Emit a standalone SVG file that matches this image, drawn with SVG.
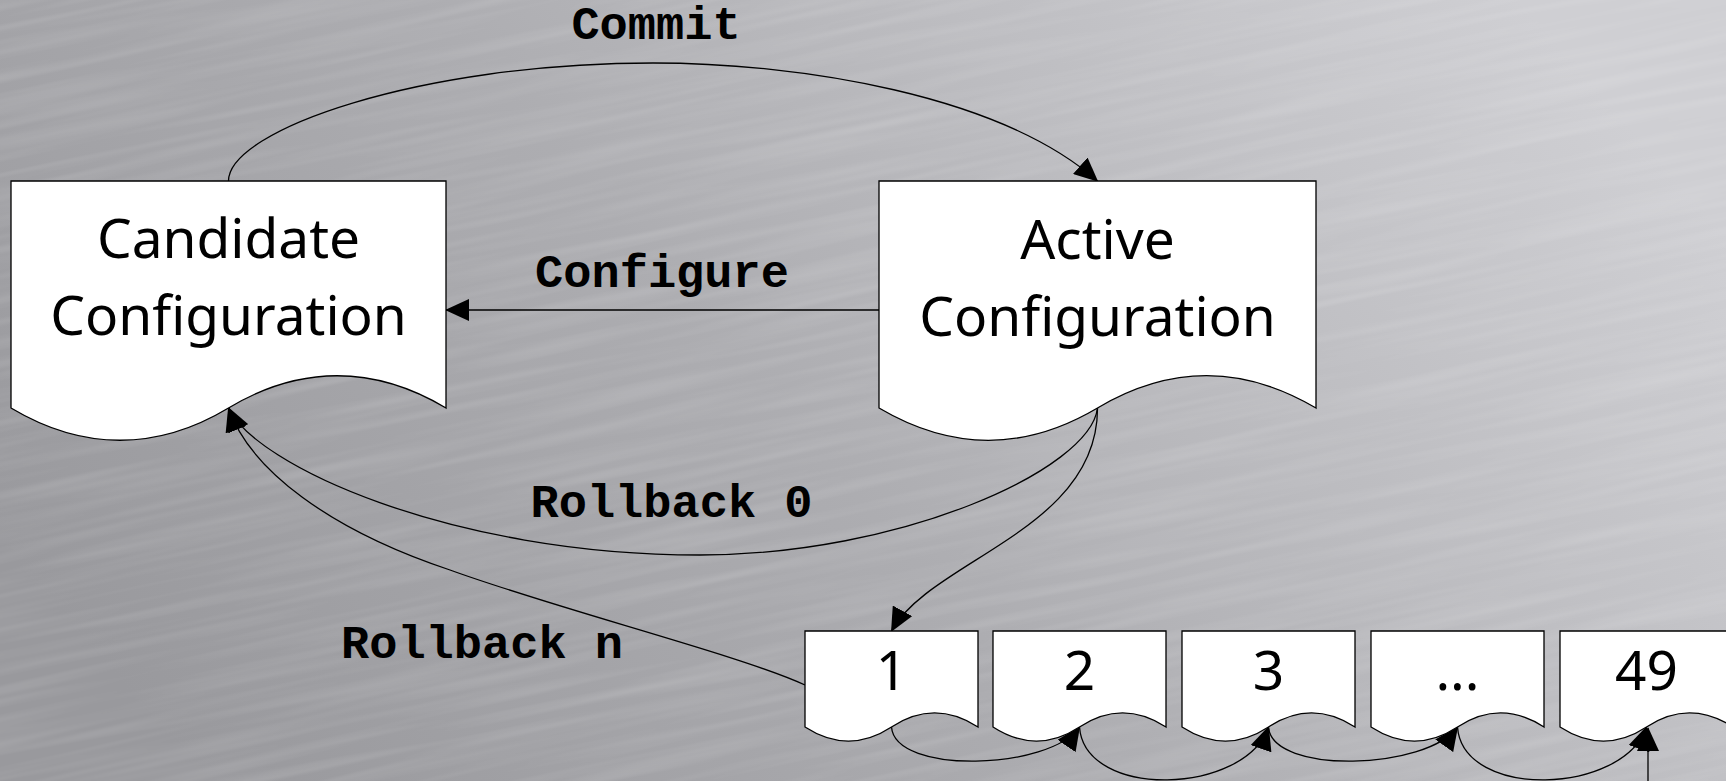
<svg xmlns="http://www.w3.org/2000/svg" width="1726" height="781" viewBox="0 0 1726 781">
<defs>
<linearGradient id="bg" x1="0" y1="0.7" x2="1" y2="0.3">
<stop offset="0" stop-color="#99999d"/>
<stop offset="0.45" stop-color="#adadb1"/>
<stop offset="1" stop-color="#cfcfd3"/>
</linearGradient>
<filter id="brush" x="0" y="0" width="1" height="1">
<feTurbulence type="fractalNoise" baseFrequency="0.004 0.1" numOctaves="2" seed="7"/>
<feColorMatrix type="matrix" values="0 0 0 0 1  0 0 0 0 1  0 0 0 0 1  0.25 0 0 0 -0.1"/>
</filter>
<marker id="arr" viewBox="0 0 24 22" refX="23" refY="11" markerWidth="24" markerHeight="22" orient="auto" markerUnits="userSpaceOnUse">
<path d="M0,0 L24,11 L0,22 z" fill="#000"/>
</marker>
<style>
.doc{fill:#fff;stroke:#000;stroke-width:1.3}
.big{font-family:"Noto Sans","Open Sans",sans-serif;font-size:55px;fill:#000;text-anchor:middle}
.lbl{font-family:"Liberation Mono","Courier New",monospace;font-weight:bold;font-size:47px;fill:#000;text-anchor:middle}
.con{fill:none;stroke:#000;stroke-width:1.3;marker-end:url(#arr)}
</style>
</defs>
<rect width="1726" height="781" fill="url(#bg)"/>
<g transform="rotate(-12 863 390)">
<rect x="-300" y="-400" width="2326" height="1600" filter="url(#brush)"/>
</g>

<g id="connectors">
<path class="con" d="M228.5,181 C228.5,130 420,63 653,63 C800,63 1000,95 1097.5,181"/>
<path class="con" d="M879,310 H446"/>
<path class="con" d="M1097.5,408 C1090,470 900,555 700,555 C450,555 255,465 228.5,408"/>
<path class="con" d="M805,685 C740,655 560,610 450,570 C330,530 250,470 228.5,408"/>
<path class="con" d="M1097.5,408 C1098,530 930,560 891.5,631"/>
<path class="con" d="M891.5,727 C895,775 1050,770 1079.5,727"/>
<path class="con" d="M1079.5,727 C1085,800 1245,795 1268.5,727"/>
<path class="con" d="M1268.5,727 C1272,775 1427,770 1457.5,727"/>
<path class="con" d="M1457.5,727 C1463,800 1623,795 1646.5,727"/>
<path class="con" d="M1648,795 V728"/>
</g>

<g id="candidate">
<path class="doc" d="M11,181 H446 V408 C374,365 300,365 228.5,408 C157,451 83,451 11,408 Z"/>
<text class="big" x="228.5" y="258">Candidate</text>
<text class="big" x="228.5" y="335">Configuration</text>
</g>
<g id="active">
<path class="doc" d="M879,181 H1316 V408 C1243,365 1170,365 1097.5,408 C1025,451 952,451 879,408 Z"/>
<text class="big" x="1097.5" y="259">Active</text>
<text class="big" x="1097.5" y="336">Configuration</text>
</g>

<g id="rev1">
<path class="doc" d="M805,631 h173 V727 C949,708.3 920,708.3 891.5,727 C863,745.7 834,745.7 805,727 Z"/>
<text class="big" x="891.5" y="690">1</text>
</g>
<g id="rev2">
<path class="doc" d="M993,631 h173 V727 C1137,708.3 1108,708.3 1079.5,727 C1051,745.7 1022,745.7 993,727 Z"/>
<text class="big" x="1079.5" y="690">2</text>
</g>
<g id="rev3">
<path class="doc" d="M1182,631 h173 V727 C1326,708.3 1297,708.3 1268.5,727 C1240,745.7 1211,745.7 1182,727 Z"/>
<text class="big" x="1268.5" y="690">3</text>
</g>
<g id="revdots">
<path class="doc" d="M1371,631 h173 V727 C1515,708.3 1486,708.3 1457.5,727 C1429,745.7 1400,745.7 1371,727 Z"/>
<text class="big" x="1457.5" y="690">...</text>
</g>
<g id="rev49">
<path class="doc" d="M1560,631 h173 V727 C1704,708.3 1675,708.3 1646.5,727 C1618,745.7 1589,745.7 1560,727 Z"/>
<text class="big" x="1646.5" y="690">49</text>
</g>

<g id="labels">
<text class="lbl" x="656" y="39">Commit</text>
<text class="lbl" x="662" y="287">Configure</text>
<text class="lbl" x="671.5" y="517">Rollback 0</text>
<text class="lbl" x="482" y="658">Rollback n</text>
</g>
</svg>
